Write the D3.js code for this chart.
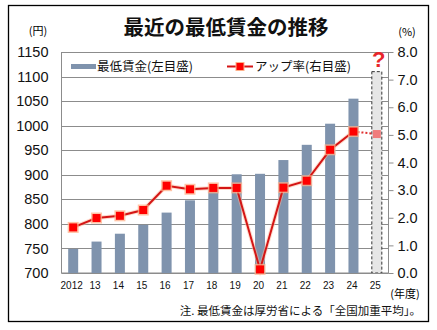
<!DOCTYPE html>
<html><head><meta charset="utf-8">
<script src="https://cdn.jsdelivr.net/npm/d3@7"></script>
<style>body{margin:0;background:#fff}svg{display:block}</style>
</head><body>
<svg id="c" width="437" height="330"></svg>
<script>
const years = ["2012","13","14","15","16","17","18","19","20","21","22","23","24","25"];
const wages = [749,764,780,798,823,848,874,901,902,930,961,1004,1055,1110];
const rates = [1.65,1.99,2.07,2.28,3.16,3.03,3.08,3.08,0.13,3.09,3.34,4.46,5.12,5.03];
const leftTicks = [700,750,800,850,900,950,1000,1050,1100,1150];
const rightTicks = [0,1,2,3,4,5,6,7,8];
const estimateIndex = 13;

const svg = d3.select("#c");
const jp = "'Noto Sans CJK JP', sans-serif";
const num = "'Liberation Sans', Arial, sans-serif";
const L = 61.5, R = 388.5, T = 52, B = 273;

const x = d3.scaleBand().domain(years).range([L, R]).paddingInner(0.57).paddingOuter(0.285);
const yL = d3.scaleLinear().domain([700,1150]).range([B,T]);
const yR = d3.scaleLinear().domain([0,8]).range([B,T]);
const cx = d => x(d) + x.bandwidth()/2;

// outer frame
svg.append("rect").attr("x",8.5).attr("y",5.5).attr("width",420).attr("height",316)
  .attr("fill","#fff").attr("stroke","#000").attr("stroke-width",1.3);

// title
svg.append("text").attr("x",226).attr("y",35).attr("text-anchor","middle")
  .attr("font-family",jp).attr("font-weight","bold").attr("font-size",20.5).attr("fill","#111")
  .text("最近の最低賃金の推移");
svg.append("text").attr("x",38).attr("y",35).attr("text-anchor","middle")
  .attr("font-family",jp).attr("font-size",11).text("(円)");
svg.append("text").attr("x",407).attr("y",36).attr("text-anchor","middle")
  .attr("font-family",jp).attr("font-size",11).text("(%)");

// gridlines
const g = svg.append("g");
g.selectAll("line.grid").data(leftTicks.filter(v=>v>700 && v<1150)).join("line")
  .attr("x1",L).attr("x2",R).attr("y1",d=>Math.round(yL(d))+0.5).attr("y2",d=>Math.round(yL(d))+0.5)
  .attr("stroke","#8c8c8c").attr("stroke-width",1);
// plot border
g.append("rect").attr("x",L).attr("y",T+0.5).attr("width",R-L).attr("height",B-T-0.5)
  .attr("fill","none").attr("stroke","#8c8c8c").attr("stroke-width",1);

// left axis labels
const axL = d3.axisLeft(yL).tickValues(leftTicks).tickSize(0).tickPadding(13).tickFormat(d3.format("d"));
svg.append("g").attr("transform",`translate(${L},0)`).call(axL)
  .call(s=>s.select(".domain").remove())
  .selectAll("text").attr("font-family",num).attr("font-size",14.5).attr("fill","#111");

// right axis
const axR = d3.axisRight(yR).tickValues(rightTicks).tickSize(5).tickPadding(4).tickFormat(d3.format(".1f"));
svg.append("g").attr("transform",`translate(${R},0)`).call(axR)
  .call(s=>s.select(".domain").remove())
  .call(s=>s.selectAll("line").attr("stroke","#8c8c8c"))
  .selectAll("text").attr("font-family",num).attr("font-size",14.5).attr("fill","#111");

// x axis labels
const axX = d3.axisBottom(x).tickSize(0).tickPadding(9);
svg.append("g").attr("transform",`translate(-1.5,${B})`).call(axX)
  .call(s=>s.select(".domain").remove())
  .selectAll("text").attr("font-family",num).attr("font-size",10).attr("fill","#111");

// bars
const bw = 10;
svg.append("g").selectAll("rect").data(years).join("rect")
  .attr("x",d=>cx(d)-bw/2).attr("width",bw)
  .attr("y",(d,i)=>yL(wages[i])).attr("height",(d,i)=>B-yL(wages[i]))
  .attr("fill",(d,i)=>i===estimateIndex?"#e6e6e6":"#7f93ad")
  .attr("stroke",(d,i)=>i===estimateIndex?"#333":"none")
  .attr("stroke-dasharray","3,2").attr("stroke-width",1);

// bottom axis line over bars
svg.append("line").attr("x1",L).attr("x2",R).attr("y1",B+0.5).attr("y2",B+0.5).attr("stroke","#8c8c8c");

// rate line
const pts = years.map((d,i)=>[cx(d), yR(rates[i])]);
const line = d3.line();
svg.append("path").attr("d",line(pts.slice(0,estimateIndex)))
  .attr("fill","none").attr("stroke","#ffb59a").attr("stroke-width",4).attr("stroke-opacity",0.5);
svg.append("path").attr("d",line(pts.slice(0,estimateIndex)))
  .attr("fill","none").attr("stroke","#d41515").attr("stroke-width",2);
svg.append("path").attr("d",line(pts.slice(estimateIndex-1)))
  .attr("fill","none").attr("stroke","#e03030").attr("stroke-width",2).attr("stroke-dasharray","2,2");

const mk = svg.append("g");
mk.selectAll("rect.glow").data(pts.slice(0,estimateIndex)).join("rect")
  .attr("x",p=>p[0]-5.5).attr("y",p=>p[1]-5.5).attr("width",11).attr("height",11)
  .attr("fill","#ffb08a").attr("opacity",0.75);
mk.selectAll("rect.m").data(pts).join("rect")
  .attr("x",p=>p[0]-4).attr("y",p=>p[1]-4).attr("width",8).attr("height",8)
  .attr("fill",(p,i)=>i===estimateIndex?"#f07b7b":"#ff0000");

// question mark
svg.append("text").attr("x",cx(years[estimateIndex])+2).attr("y",67).attr("text-anchor","middle")
  .attr("font-family",num).attr("font-weight","bold").attr("font-size",22).attr("fill","#e8262a").text("?");

// legend
svg.append("rect").attr("x",71).attr("y",64).attr("width",25).attr("height",5).attr("fill","#7f93ad");
svg.append("text").attr("x",97).attr("y",71).attr("font-family",jp).attr("font-size",12.5).attr("fill","#111")
  .text("最低賃金(左目盛)");
svg.append("line").attr("x1",227).attr("x2",253).attr("y1",66.5).attr("y2",66.5).attr("stroke","#d41515").attr("stroke-width",2);
svg.append("rect").attr("x",236).attr("y",62.5).attr("width",8).attr("height",8).attr("fill","#ff0000").attr("stroke","#ffb08a");
svg.append("text").attr("x",255).attr("y",71).attr("font-family",jp).attr("font-size",12.5).attr("fill","#111")
  .text("アップ率(右目盛)");

// unit & note
svg.append("text").attr("x",405).attr("y",298).attr("text-anchor","middle").attr("font-family",jp).attr("font-size",11).text("(年度)");
svg.append("text").attr("x",421).attr("y",315).attr("text-anchor","end").attr("font-family",jp).attr("font-size",11.5).attr("fill","#111")
  .text("注. 最低賃金は厚労省による「全国加重平均」。");
</script>
</body></html>
